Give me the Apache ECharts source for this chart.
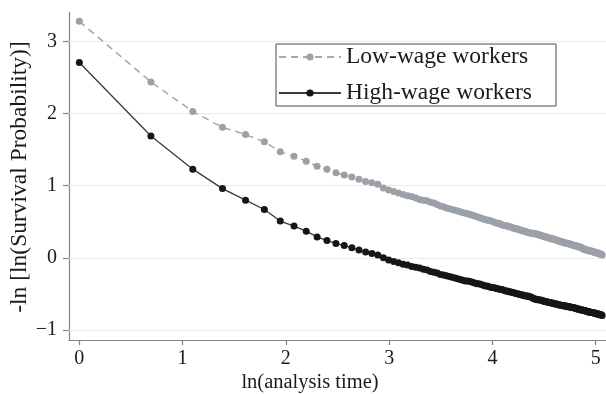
<!DOCTYPE html>
<html>
<head>
<meta charset="utf-8">
<script src="https://cdn.jsdelivr.net/npm/echarts@6/dist/echarts.min.js"></script>
<style>
  html, body { margin: 0; padding: 0; background: #fff; }
  #chart { width: 606px; height: 394px; }
</style>
</head>
<body>
<div id="chart"></div>
<script>
// Analysis time (integer periods) and -ln[-ln S(t)] for the two groups
const analysisTime = [
  1, 2, 3, 4, 5, 6, 7, 8, 9, 10, 11, 12, 13, 14, 15, 16, 17, 18, 19, 20,
  21, 22, 23, 24, 25, 26, 27, 28, 29, 30, 31, 32, 33, 34, 35, 36, 37, 38, 39, 40,
  41, 42, 43, 44, 45, 46, 47, 48, 49, 50, 51, 52, 53, 54, 55, 56, 57, 58, 59, 60,
  61, 62, 63, 64, 65, 66, 67, 68, 69, 70, 71, 72, 73, 74, 75, 76, 77, 78, 79, 80,
  81, 82, 83, 84, 85, 86, 87, 88, 89, 90, 91, 92, 93, 94, 95, 96, 97, 98, 99, 100,
  101, 102, 103, 104, 105, 106, 107, 108, 109, 110, 111, 112, 113, 114, 115, 116, 117, 118, 119, 120,
  121, 122, 123, 124, 125, 126, 127, 128, 129, 130, 131, 132, 133, 134, 135, 136, 137, 138, 139, 140,
  141, 142, 143, 144, 145, 146, 147, 148, 149, 150, 151, 152, 153, 154, 155, 156, 157, 158
];

const lowWage = [
  3.28, 2.44, 2.03, 1.81, 1.71, 1.61, 1.47, 1.41, 1.34, 1.27,
  1.23, 1.18, 1.15, 1.12, 1.09, 1.06, 1.04, 1.02, 0.97, 0.94,
  0.92, 0.90, 0.88, 0.86, 0.85, 0.83, 0.81, 0.80, 0.79, 0.77,
  0.76, 0.74, 0.72, 0.71, 0.69, 0.68, 0.67, 0.66, 0.65, 0.64,
  0.63, 0.62, 0.61, 0.60, 0.59, 0.58, 0.57, 0.56, 0.55, 0.54,
  0.53, 0.52, 0.52, 0.51, 0.50, 0.49, 0.48, 0.48, 0.47, 0.46,
  0.45, 0.45, 0.44, 0.43, 0.43, 0.42, 0.41, 0.41, 0.40, 0.40,
  0.39, 0.38, 0.38, 0.37, 0.37, 0.36, 0.35, 0.35, 0.34, 0.34,
  0.34, 0.34, 0.33, 0.33, 0.32, 0.32, 0.31, 0.31, 0.30, 0.30,
  0.29, 0.29, 0.28, 0.28, 0.27, 0.27, 0.26, 0.26, 0.26, 0.25,
  0.25, 0.24, 0.24, 0.23, 0.23, 0.23, 0.22, 0.22, 0.21, 0.21,
  0.21, 0.20, 0.20, 0.20, 0.19, 0.19, 0.18, 0.18, 0.18, 0.17,
  0.17, 0.17, 0.16, 0.16, 0.16, 0.15, 0.15, 0.15, 0.14, 0.14,
  0.13, 0.12, 0.12, 0.12, 0.11, 0.11, 0.11, 0.10, 0.10, 0.10,
  0.09, 0.09, 0.09, 0.09, 0.08, 0.08, 0.08, 0.07, 0.07, 0.07,
  0.07, 0.06, 0.06, 0.06, 0.05, 0.05, 0.05, 0.04
];

const highWage = [
  2.71, 1.69, 1.23, 0.96, 0.80, 0.67, 0.51, 0.44, 0.37, 0.29,
  0.24, 0.20, 0.17, 0.14, 0.11, 0.08, 0.06, 0.04, 0.00, -0.03,
  -0.05, -0.07, -0.09, -0.10, -0.12, -0.13, -0.14, -0.16, -0.17, -0.19,
  -0.20, -0.21, -0.23, -0.24, -0.25, -0.26, -0.27, -0.28, -0.29, -0.30,
  -0.31, -0.32, -0.32, -0.33, -0.34, -0.35, -0.36, -0.36, -0.37, -0.38,
  -0.39, -0.39, -0.40, -0.41, -0.41, -0.42, -0.43, -0.43, -0.44, -0.44,
  -0.45, -0.46, -0.46, -0.47, -0.47, -0.48, -0.48, -0.49, -0.50, -0.50,
  -0.51, -0.51, -0.52, -0.52, -0.53, -0.53, -0.53, -0.54, -0.54, -0.55,
  -0.56, -0.57, -0.57, -0.58, -0.58, -0.58, -0.59, -0.59, -0.60, -0.60,
  -0.61, -0.61, -0.61, -0.62, -0.62, -0.62, -0.63, -0.63, -0.63, -0.64,
  -0.64, -0.64, -0.65, -0.65, -0.65, -0.66, -0.66, -0.66, -0.67, -0.67,
  -0.67, -0.67, -0.68, -0.68, -0.68, -0.68, -0.69, -0.69, -0.69, -0.69,
  -0.70, -0.70, -0.70, -0.71, -0.71, -0.71, -0.72, -0.72, -0.72, -0.72,
  -0.73, -0.73, -0.73, -0.73, -0.74, -0.74, -0.74, -0.75, -0.75, -0.75,
  -0.75, -0.76, -0.76, -0.76, -0.76, -0.77, -0.77, -0.77, -0.77, -0.78,
  -0.78, -0.78, -0.78, -0.79, -0.79, -0.79, -0.79, -0.80
];

const xTicks = [0, 1, 2, 3, 4, 5];
const yTicks = [-1, 0, 1, 2, 3];
const seriesNames = ['Low-wage workers', 'High-wage workers'];

const FONT = 'Liberation Serif';
const AXIS_COLOR = '#7d868f';
const GRID_COLOR = '#e6edf2';

// x is plotted on the log scale of analysis time
const toPairs = (vals) => analysisTime.map((t, i) => [Math.log(t), vals[i]]);

const chart = echarts.init(document.getElementById('chart'), null, { renderer: 'canvas' });

chart.setOption({
  backgroundColor: '#ffffff',
  animation: false,
  grid: { left: 69, right: 0, top: 12, bottom: 54 },
  xAxis: {
    type: 'value',
    min: -0.1,
    max: 5.1,
    axisLine: { onZero: false, lineStyle: { color: AXIS_COLOR, width: 1.2 } },
    axisTick: { customValues: xTicks, length: 5, lineStyle: { color: AXIS_COLOR, width: 1.2 } },
    axisLabel: {
      customValues: xTicks, margin: 9,
      fontFamily: FONT, fontSize: 20, color: '#1a1a1a'
    },
    splitLine: { show: false }
  },
  yAxis: {
    type: 'value',
    min: -1.14,
    max: 3.41,
    axisLine: { show: true, onZero: false, lineStyle: { color: AXIS_COLOR, width: 1.2 } },
    axisTick: { show: true, customValues: yTicks, length: 6, lineStyle: { color: AXIS_COLOR, width: 1.2 } },
    axisLabel: {
      customValues: yTicks, margin: 12,
      fontFamily: FONT, fontSize: 20, color: '#1a1a1a',
      formatter: (v) => (v < 0 ? '\u2212' + Math.abs(v) : String(v))
    },
    splitLine: { show: false }
  },
  legend: {
    orient: 'vertical',
    left: 276,
    top: 44,
    padding: [0, 24, 0, 2],
    itemGap: 10,
    itemWidth: 62,
    itemHeight: 9,
    borderColor: '#4a4a4a',
    borderWidth: 1,
    textStyle: { fontFamily: FONT, fontSize: 23.5, color: '#1a1a1a', lineHeight: 26 },
    data: seriesNames
  },
  graphic: [
    {
      type: 'text',
      x: 20, y: 177,
      rotation: Math.PI / 2,
      style: {
        text: '-ln [ln(Survival Probability)]',
        fontFamily: FONT, fontSize: 23.5, fill: '#1a1a1a',
        textAlign: 'center', textVerticalAlign: 'middle'
      }
    },
    {
      type: 'text',
      x: 310, y: 383,
      style: {
        text: 'ln(analysis time)',
        fontFamily: FONT, fontSize: 20.5, fill: '#1a1a1a',
        textAlign: 'center', textVerticalAlign: 'middle'
      }
    }
  ],
  series: [
    {
      name: seriesNames[0],
      type: 'line',
      data: toPairs(lowWage),
      symbol: 'circle',
      symbolSize: 7,
      showAllSymbol: true,
      itemStyle: { color: '#9ba1a7' },
      lineStyle: { color: '#a3a8ae', width: 1.5, type: [7, 5] },
      z: 3,
      markLine: {
        silent: true,
        symbol: 'none',
        label: { show: false },
        lineStyle: { color: GRID_COLOR, width: 1.2, type: 'solid' },
        data: yTicks.map((v) => ({ yAxis: v })),
        z: 1
      }
    },
    {
      name: seriesNames[1],
      type: 'line',
      data: toPairs(highWage),
      symbol: 'circle',
      symbolSize: 7,
      showAllSymbol: true,
      itemStyle: { color: '#161616' },
      lineStyle: { color: '#3a3a3a', width: 1.3 },
      z: 4
    }
  ]
});
</script>
</body>
</html>
